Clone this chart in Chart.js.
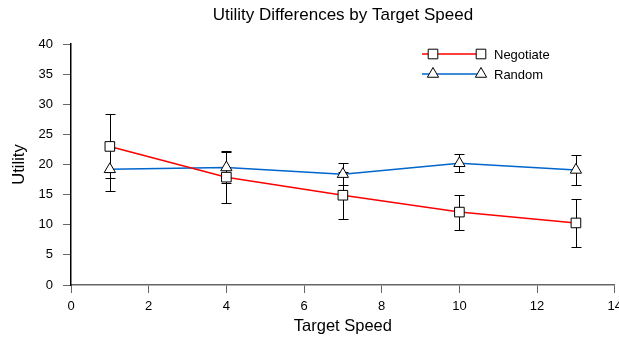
<!DOCTYPE html>
<html>
<head>
    <style>
        body { margin: 0; background: #fff; overflow: hidden; }
        /* canvas is a little wider than the window so the "14" label gets cut at the edge */
        #wrap { width: 619px; height: 337px; overflow: hidden; }
    </style>
    <script src="https://cdn.jsdelivr.net/npm/chart.js"></script>
</head>
<body>
    <div id="wrap"><canvas id="chart" width="628" height="337"></canvas></div>
    <script>
        // data
        const speeds = [1, 4, 7, 10, 13];
        const negotiate = [23.0, 17.9, 14.9, 12.1, 10.3];
        const negotiateErr = [5.3, 4.3, 3.9, 2.9, 4.0];
        const random = [19.2, 19.5, 18.4, 20.2, 19.1];
        const randomErr = [3.6, 2.5, 1.8, 1.5, 2.5];
        const xTicks = [0, 2, 4, 6, 8, 10, 12, 14];
        const yTicks = [0, 5, 10, 15, 20, 25, 30, 35, 40];

        const FONT = "'Liberation Sans', Arial, sans-serif";

        // error bars drawn under the markers
        const errorBars = {
            id: 'errorBars',
            beforeDatasetsDraw(chart) {
                const ctx = chart.ctx;
                const xs = chart.scales.x, ys = chart.scales.y;
                ctx.save();
                ctx.strokeStyle = '#000';
                ctx.lineWidth = 1;
                chart.data.datasets.forEach(ds => {
                    ds.data.forEach((p, i) => {
                        const x = Math.round(xs.getPixelForValue(p.x)) + 0.5;
                        const top = Math.round(ys.getPixelForValue(p.y + ds.err[i])) + 0.5;
                        const bot = Math.round(ys.getPixelForValue(p.y - ds.err[i])) + 0.5;
                        ctx.beginPath();
                        ctx.moveTo(x, top); ctx.lineTo(x, bot);
                        ctx.moveTo(x - 5, top); ctx.lineTo(x + 5, top);
                        ctx.moveTo(x - 5, bot); ctx.lineTo(x + 5, bot);
                        ctx.stroke();
                    });
                });
                ctx.restore();
            }
        };

        // title over the plot area and legend with a marker at both line ends
        const decor = {
            id: 'decor',
            afterDraw(chart) {
                const ctx = chart.ctx;
                const area = chart.chartArea;
                ctx.save();
                ctx.fillStyle = '#000';
                ctx.font = '17px ' + FONT;
                ctx.textAlign = 'center';
                ctx.textBaseline = 'middle';
                ctx.fillText('Utility Differences by Target Speed', (area.left + area.right) / 2, 15);

                chart.data.datasets.forEach((ds, i) => {
                    const y = 54 + i * 20;
                    ctx.strokeStyle = ds.borderColor;
                    ctx.lineWidth = 1.5;
                    ctx.beginPath();
                    ctx.moveTo(422, y); ctx.lineTo(481, y);
                    ctx.stroke();
                    [433, 481].forEach(x => {
                        ctx.fillStyle = '#fff';
                        ctx.strokeStyle = '#000';
                        ctx.lineWidth = 1;
                        Chart.helpers.drawPoint(ctx, {
                            pointStyle: ds.pointStyle, radius: ds.pointRadius, borderWidth: 1
                        }, x, y);
                    });
                    ctx.fillStyle = '#000';
                    ctx.font = '13px ' + FONT;
                    ctx.textAlign = 'left';
                    ctx.fillText(ds.label, 494, y + 1);
                });
                ctx.restore();
            }
        };

        const series = (label, ys, err, color, style, r) => ({
            label: label,
            data: speeds.map((x, i) => ({ x: x, y: ys[i] })),
            err: err,
            borderColor: color,
            borderWidth: 1.5,
            pointStyle: style,
            pointRadius: r,
            pointBackgroundColor: '#fff',
            pointBorderColor: '#000',
            pointBorderWidth: 1,
            tension: 0,
            fill: false
        });

        new Chart(document.getElementById('chart'), {
            type: 'line',
            data: {
                datasets: [
                    series('Negotiate', negotiate, negotiateErr, '#ff0000', 'rect', 6.8),
                    series('Random', random, randomErr, '#0066cc', 'triangle', 6.5)
                ]
            },
            plugins: [errorBars, decor],
            options: {
                responsive: false,
                animation: false,
                layout: { padding: { top: 44, right: 0, left: 0, bottom: 0 } },
                plugins: { legend: { display: false }, title: { display: false }, tooltip: { enabled: false } },
                scales: {
                    x: {
                        type: 'linear', min: 0, max: 14,
                        afterBuildTicks: s => { s.ticks = xTicks.map(v => ({ value: v })); },
                        afterFit: s => { s.height = 52; },
                        grid: { drawOnChartArea: false, drawTicks: true, tickLength: 8, color: '#666' },
                        border: { display: true, color: '#666', width: 1.5 },
                        ticks: { color: '#000', font: { family: FONT, size: 13 }, padding: 6, maxRotation: 0 },
                        title: { display: true, text: 'Target Speed', color: '#000', font: { family: FONT, size: 16.5 }, padding: { top: 4, bottom: 1 } }
                    },
                    y: {
                        type: 'linear', min: 0, max: 40,
                        afterBuildTicks: s => { s.ticks = yTicks.map(v => ({ value: v })); },
                        afterFit: s => { s.width = 71; },
                        grid: { drawOnChartArea: false, drawTicks: true, tickLength: 8, color: '#666' },
                        border: { display: true, color: '#000', width: 1.5 },
                        ticks: { color: '#000', font: { family: FONT, size: 13 }, padding: 10 },
                        title: { display: true, text: 'Utility', color: '#000', font: { family: FONT, size: 16.5 }, padding: { top: 10, bottom: 4 } }
                    }
                }
            }
        });
    </script>
</body>
</html>
